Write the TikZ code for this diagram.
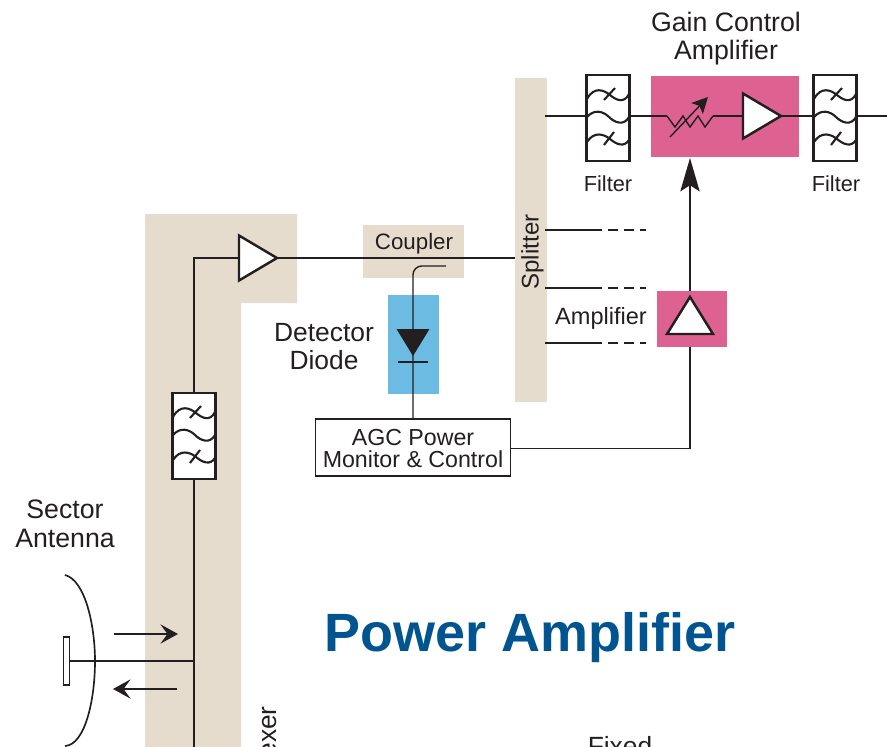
\documentclass[tikz,border=0pt]{standalone}
\usepackage{fontspec}
\setmainfont{Liberation Sans}
\usetikzlibrary{positioning, arrows.meta, calc, shapes.geometric}
\definecolor{inkdark}{HTML}{231F20}
\definecolor{tanbg}{HTML}{E6DCCE}
\definecolor{pinkbg}{HTML}{DD6191}
\definecolor{bluebg}{HTML}{6BBBE3}
\definecolor{titleblue}{HTML}{00548F}
\tikzset{
    sig/.style={draw=inkdark, line width=0.8pt},
    label/.style={text=inkdark, inner sep=0pt, align=center},
    tanbox/.style={fill=tanbg, inner sep=0pt, outer sep=0pt},
    pinkbox/.style={fill=pinkbg, inner sep=0pt, outer sep=0pt},
    filterbox/.style={draw=inkdark, fill=white, line width=1.6pt, minimum width=0.85cm, minimum height=1.72cm, inner sep=0pt, outer sep=0pt},
    ampbox/.style={isosceles triangle, isosceles triangle stretches, draw=inkdark, fill=white, line width=1.4pt, minimum width=0.9cm, minimum height=0.76cm, inner sep=0pt, outer sep=0pt},
    barbhead/.style={-{Stealth[length=10pt, width=11pt, inset=4pt]}},
    filterwave/.pic={
        \draw[inkdark, line width=1.2pt]
            (-21,-19) .. controls (-14,-32) and (-4,-28) .. (2,-23) .. controls (8,-18) and (16,-14) .. (21,-24)
            (-21,-1) .. controls (-14,-9) and (-5,-7) .. (1,-1) .. controls (7,5) and (16,8) .. (21,-1)
            (-21,24) .. controls (-14,13) and (-4,16) .. (2,21) .. controls (8,26) and (16,30) .. (21,22)
            (-4,-18) -- (7,-30)
            (-4,27) -- (6,14);
    }
}

\begin{document}
\begin{tikzpicture}[x=0.02cm, y=-0.02cm]
    \clip[use as bounding box] (0,0) rectangle (887,747);

    % Tan backgrounds
    \fill[tanbg] (145,214) -- (297,214) -- (297,303) -- (241,303) -- (241,747) -- (145,747) -- cycle;
    \node[tanbox, minimum width=0.64cm, minimum height=6.48cm] (split) at (531,240) {};
    \node[tanbox, minimum width=2.02cm, minimum height=1.06cm] (coupler) at (413.5,251.5) {};
    \node[fill=bluebg, inner sep=0pt, minimum width=1.02cm, minimum height=1.98cm] (detbg) at (413.5,344.5) {};

    % Duplexer side
    \node[filterbox] (fltdup) at (194,436) {};
    \pic at (fltdup) {filterwave};
    \coordinate (dupbot) at (194,747);
    \coordinate (dupjoin) at (194,661);
    \node[ampbox, anchor=lower side] (txamp) at (239,258) {};
    \draw[sig] (txamp.lower side) -| (fltdup.north);
    \draw[sig] (fltdup.south) -- (dupbot);

    % Antenna
    \node[draw=inkdark, fill=white, line width=0.8pt, minimum width=0.13cm, minimum height=0.96cm, inner sep=0pt, outer sep=0pt] (elem) at (66.5,661) {};
    \draw[sig] (elem.east) -- (dupjoin);
    \draw[inkdark, line width=0.95pt] (65,575) .. controls (85,580) and (95,625) .. (95,661) .. controls (95,700) and (85,745) .. (65,746);
    \coordinate (txa) at (114,634);
    \coordinate (txb) at (178,634);
    \coordinate (rxa) at (177,689);
    \coordinate (rxb) at (113,689);
    \draw[sig, barbhead] (txa) -- (txb);
    \draw[sig, barbhead] (rxa) -- (rxb);

    % Coupler and detector
    \node[draw=inkdark, fill=white, line width=1pt, minimum width=3.9cm, minimum height=1.13cm, inner sep=0pt, outer sep=0pt] (agc) at (413,447.5) {};
    \coordinate (cpl) at (446,266);
    \draw[sig, rounded corners=5pt] (cpl) -| (agc.north);
    \draw[sig] (txamp.apex) -- (split.west |- txamp.apex);
    \node[isosceles triangle, isosceles triangle stretches, shape border rotate=-90, fill=inkdark, inner sep=0pt, outer sep=0pt, minimum width=0.66cm, minimum height=0.54cm, anchor=apex] (diode) at (413,356) {};
    \coordinate (bara) at (398,362);
    \coordinate (barb) at (428,362);
    \draw[sig] (bara) -- (barb);

    % Splitter outputs
    \foreach \yy/\nm in {230/a, 288/b, 343/c} {
        \coordinate (st\nm) at (545,\yy);
        \coordinate (sm\nm) at (602,\yy);
        \coordinate (se\nm) at (646,\yy);
        \draw[sig] (st\nm) -- (sm\nm);
        \draw[sig, dash pattern=on 5.7pt off 3.4pt] ($(sm\nm)+(6,0)$) -- (se\nm);
    }

    % Control line and vertical amplifier
    \coordinate (arrtip) at (690,158);
    \coordinate (arrfoot) at (690,291);
    \coordinate (ctlup) at (690,347);
    \draw[sig] ($(agc.east)+(0,1)$) -| (ctlup);
    \draw[sig, -{Stealth[length=19pt, width=11pt, inset=3.5pt]}] (arrfoot) -- (arrtip);
    \node[pinkbox, minimum width=1.4cm, minimum height=1.12cm] (pwrbg) at (692,319) {};
    \node[ampbox, shape border rotate=90, minimum width=0.92cm, minimum height=0.74cm, anchor=lower side] (pwramp) at (690,334) {};

    % Gain control chain
    \node[pinkbox, minimum width=2.96cm, minimum height=1.62cm] (gcabg) at (725,116.5) {};
    \node[filterbox] (flta) at (608,118) {};
    \node[filterbox] (fltb) at (835,118) {};
    \pic at (flta) {filterwave};
    \pic at (fltb) {filterwave};
    \node[ampbox, anchor=lower side] (gcamp) at (743,116) {};
    \coordinate (outr) at (887,116);
    \coordinate (inl) at (545,116);
    \coordinate (resl) at (667,116);
    \coordinate (resr) at (713,116);
    \draw[sig] (inl) -- (flta.west |- inl);
    \draw[sig] (flta.east |- inl) -- (resl);
    \draw[sig] (resl) -- ++(8,11) -- ++(8,-11) -- ++(7,11) -- ++(8,-11) -- ++(7,11) -- (resr);
    \draw[sig] (resr) -- (gcamp.lower side);
    \draw[sig] (gcamp.apex) -- (fltb.west |- inl);
    \draw[sig] (fltb.east |- inl) -- (outr);
    \coordinate (tunea) at (670,137);
    \coordinate (tuneb) at (708,97);
    \draw[sig, -{Stealth[length=9pt, width=9pt, inset=2pt]}] (tunea) -- (tuneb);

    % Labels
    \node[label, font=\fontsize{15.2}{15.9}\selectfont] (gcalab) at (726,39) {Gain Control\\Amplifier};
    \node[label, font=\fontsize{12.4}{14}\selectfont] (filtalab) at (608,184) {Filter};
    \node[label, font=\fontsize{12.4}{14}\selectfont] (filtblab) at (836,184) {Filter};
    \node[label, font=\fontsize{13.7}{14}\selectfont, rotate=90] (splitlab) at (532.5,252) {Splitter};
    \node[label, font=\fontsize{12.7}{14}\selectfont] (cplab) at (414,244) {Coupler};
    \node[label, font=\fontsize{15}{15.9}\selectfont] (detlab) at (324,347) {Detector\\Diode};
    \node[label, font=\fontsize{13.4}{14}\selectfont] (amplab) at (601,318) {Amplifier};
    \node[label, font=\fontsize{13.2}{12.6}\selectfont] at ($(agc)+(0,1)$) {AGC Power\\Monitor \& Control};
    \node[label, font=\fontsize{15.2}{16.2}\selectfont] (antlab) at (65,524) {Sector\\Antenna};
    \node[label, font=\bfseries\fontsize{30.7}{32}\selectfont, text=titleblue] (pwrlab) at (530,638) {Power Amplifier};
    \node[label, font=\fontsize{15}{16}\selectfont, rotate=90, anchor=east] (duplab) at (270,706) {exer};
    \node[label, font=\fontsize{15}{16}\selectfont, anchor=base] (fixlab) at (620,755) {Fixed};
\end{tikzpicture}
\end{document}
